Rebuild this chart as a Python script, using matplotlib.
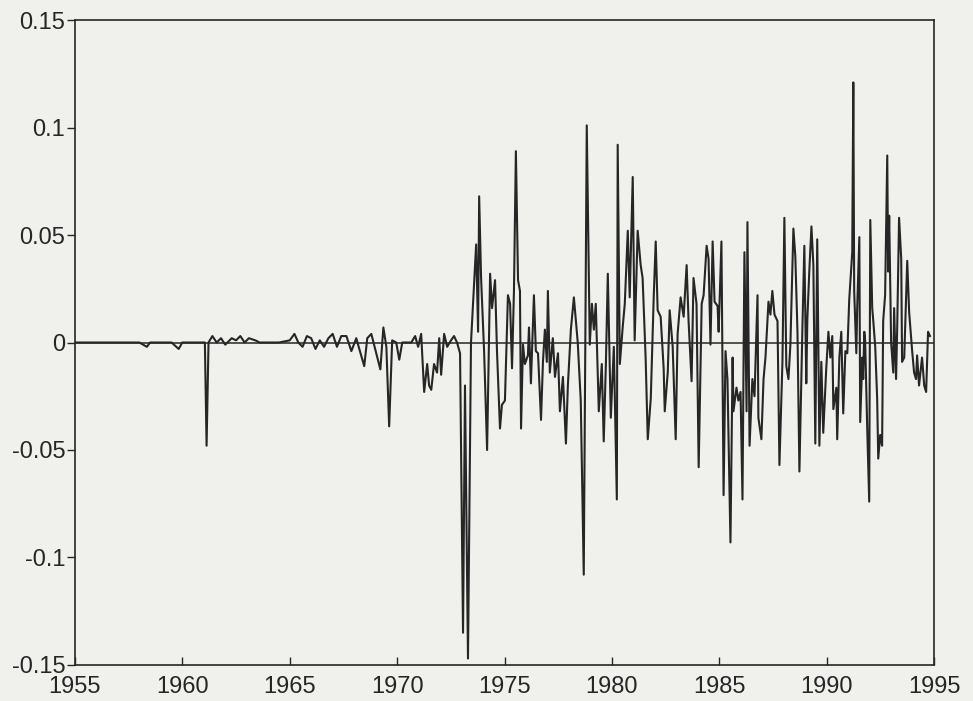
import matplotlib.pyplot as plt
import numpy as np

# calm period (fixed rate)
years_early = [1955.0, 1958.0, 1958.35, 1958.5, 1959.5, 1959.83, 1960.0,
               1961.05, 1961.13, 1961.22, 1961.4, 1961.6, 1961.8, 1962.0,
               1962.3, 1962.5, 1962.7, 1962.9, 1963.1, 1963.4, 1963.6,
               1964.5, 1965.0, 1965.22, 1965.4, 1965.6, 1965.8, 1966.0,
               1966.2, 1966.4, 1966.6, 1966.8, 1967.0, 1967.2, 1967.4,
               1967.64, 1967.87, 1968.1, 1968.24, 1968.47, 1968.61, 1968.8,
               1968.98, 1969.22, 1969.36, 1969.5, 1969.63, 1969.77, 1969.96,
               1970.1, 1970.24, 1970.66, 1970.84, 1970.98, 1971.12, 1971.26,
               1971.4, 1971.49, 1971.59, 1971.72, 1971.86, 1971.96, 1972.05,
               1972.19, 1972.33, 1972.51, 1972.65, 1972.79, 1972.93]
vals_early = [0.0, 0.0, -0.002, 0.0, 0.0, -0.003, 0.0,
              0.0, -0.048, 0.0, 0.003, 0.0, 0.002, -0.001,
              0.002, 0.001, 0.003, 0.0, 0.002, 0.001, 0.0,
              0.0, 0.001, 0.004, 0.0, -0.002, 0.003, 0.002,
              -0.003, 0.001, -0.002, 0.002, 0.004, -0.002, 0.003,
              0.003, -0.004, 0.002, -0.003, -0.011, 0.002, 0.004,
              -0.003, -0.0125, 0.007, -0.002, -0.039, 0.001, 0.0,
              -0.008, 0.0, 0.0, 0.003, -0.002, 0.004, -0.023,
              -0.01, -0.02, -0.022, -0.01, -0.014, 0.002, -0.015,
              0.004, -0.002, 0.001, 0.003, 0.0, -0.005]

# floating period
years_late = [1973.07, 1973.16, 1973.3, 1973.44, 1973.68, 1973.77, 1973.82,
              1973.91, 1974.05, 1974.19, 1974.33, 1974.42, 1974.56, 1974.65,
              1974.79, 1974.88, 1975.02, 1975.16, 1975.26, 1975.35, 1975.44,
              1975.53, 1975.63, 1975.72, 1975.77, 1975.86, 1975.95, 1976.09,
              1976.14, 1976.23, 1976.37, 1976.46, 1976.56, 1976.7, 1976.79,
              1976.88, 1976.97, 1977.02, 1977.11, 1977.25, 1977.35, 1977.49,
              1977.58, 1977.72, 1977.86, 1977.95, 1978.09, 1978.23, 1978.41,
              1978.55, 1978.69, 1978.83, 1978.97, 1979.07, 1979.16, 1979.25,
              1979.39, 1979.53, 1979.62, 1979.72, 1979.81, 1979.95, 1980.09,
              1980.23, 1980.27, 1980.37, 1980.51, 1980.6, 1980.74, 1980.83,
              1980.97, 1981.06, 1981.2, 1981.34, 1981.43, 1981.57, 1981.67,
              1981.81, 1981.95, 1982.04, 1982.13, 1982.27, 1982.41, 1982.46,
              1982.6, 1982.69, 1982.83, 1982.97, 1983.06, 1983.2, 1983.34,
              1983.48, 1983.57, 1983.71, 1983.8, 1983.94, 1984.04, 1984.18,
              1984.27, 1984.41, 1984.5, 1984.59, 1984.69, 1984.78, 1984.92,
              1984.97, 1985.1, 1985.2, 1985.29, 1985.38, 1985.52, 1985.62,
              1985.66, 1985.8, 1985.89, 1985.99, 1986.08, 1986.17, 1986.27,
              1986.31, 1986.41, 1986.54, 1986.64, 1986.78, 1986.82, 1986.96,
              1987.06, 1987.15, 1987.29, 1987.38, 1987.47, 1987.57, 1987.71,
              1987.8, 1987.94, 1988.03, 1988.12, 1988.22, 1988.31, 1988.45,
              1988.54, 1988.64, 1988.73, 1988.87, 1988.96, 1989.05, 1989.1,
              1989.19, 1989.29, 1989.38, 1989.47, 1989.56, 1989.66, 1989.75,
              1989.84, 1989.98, 1990.08, 1990.17, 1990.26, 1990.31, 1990.45,
              1990.49, 1990.59, 1990.68, 1990.77, 1990.87, 1990.96, 1991.05,
              1991.19, 1991.24, 1991.28, 1991.38, 1991.42, 1991.52, 1991.56,
              1991.66, 1991.7, 1991.75, 1991.79, 1991.89, 1991.98, 1992.03,
              1992.12, 1992.17, 1992.26, 1992.35, 1992.4, 1992.49, 1992.58,
              1992.63, 1992.72, 1992.82, 1992.86, 1992.91, 1993.0, 1993.1,
              1993.14, 1993.23, 1993.28, 1993.37, 1993.47, 1993.51, 1993.61,
              1993.75, 1993.84, 1993.98, 1994.07, 1994.16, 1994.21, 1994.3,
              1994.44, 1994.54, 1994.63, 1994.72, 1994.81]
vals_late = [-0.135, -0.02, -0.147, 0.0, 0.0456, 0.005, 0.068,
             0.03, -0.004, -0.05, 0.032, 0.016, 0.029, -0.004,
             -0.04, -0.029, -0.027, 0.022, 0.018, -0.012, 0.024,
             0.089, 0.029, 0.024, -0.04, -0.001, -0.01, -0.006,
             0.007, -0.019, 0.022, -0.004, -0.005, -0.036, -0.009,
             0.006, -0.009, 0.024, -0.014, 0.002, -0.016, -0.005,
             -0.032, -0.016, -0.047, -0.02, 0.006, 0.021, 0.0,
             -0.027, -0.108, 0.101, -0.001, 0.018, 0.006, 0.018,
             -0.032, -0.01, -0.046, -0.01, 0.032, -0.035, -0.002,
             -0.073, 0.092, -0.01, 0.008, 0.018, 0.052, 0.021,
             0.077, 0.001, 0.052, 0.036, 0.03, -0.007, -0.045,
             -0.026, 0.022, 0.047, 0.015, 0.012, -0.012, -0.032,
             -0.014, 0.015, -0.002, -0.045, 0.004, 0.021, 0.012,
             0.036, 0.01, -0.018, 0.03, 0.018, -0.058, 0.018,
             0.022, 0.045, 0.039, -0.001, 0.047, 0.019, 0.017,
             0.005, 0.047, -0.071, -0.004, -0.017, -0.093, -0.007,
             -0.032, -0.021, -0.027, -0.023, -0.073, 0.042, -0.032,
             0.056, -0.048, -0.017, -0.025, 0.022, -0.035, -0.045,
             -0.017, -0.007, 0.019, 0.013, 0.024, 0.013, 0.01,
             -0.057, -0.009, 0.058, -0.011, -0.017, -0.001, 0.053,
             0.04, 0.005, -0.06, 0.007, 0.045, -0.019, 0.011,
             0.033, 0.054, 0.036, -0.047, 0.048, -0.048, -0.009,
             -0.042, -0.012, 0.005, -0.007, 0.003, -0.031, -0.021,
             -0.045, -0.007, 0.005, -0.033, -0.004, -0.005, 0.02,
             0.042, 0.121, 0.024, -0.005, 0.016, 0.049, -0.037,
             -0.007, -0.017, 0.005, 0.001, -0.041, -0.074, 0.057,
             0.016, 0.01, -0.002, -0.026, -0.054, -0.043, -0.048,
             0.01, 0.022, 0.087, 0.033, 0.059, 0.0, -0.014,
             0.016, -0.017, 0.005, 0.058, 0.039, -0.009, -0.007,
             0.038, 0.014, -0.004, -0.014, -0.017, -0.006, -0.02,
             -0.007, -0.02, -0.023, 0.005, 0.003]

years = np.array(years_early + years_late)
vals = np.array(vals_early + vals_late)

xticks = [1955, 1960, 1965, 1970, 1975, 1980, 1985, 1990, 1995]
yticks = [-0.15, -0.1, -0.05, 0, 0.05, 0.1, 0.15]
ylabels = ['-0.15', '-0.1', '-0.05', '0', '0.05', '0.1', '0.15']

paper = '#f0f0ec'
ink = '#262626'

plt.rcParams['font.family'] = ['Liberation Sans', 'DejaVu Sans']

fig = plt.figure(figsize=(9.73, 7.01), dpi=100, facecolor=paper)
ax = fig.add_axes([0.077, 0.0514, 0.883, 0.92])
ax.set_facecolor(paper)

ax.axhline(0, color=ink, lw=1.1)
ax.plot(years, vals, color=ink, lw=1.5)

ax.set_xlim(1955, 1995)
ax.set_ylim(-0.15, 0.15)
ax.set_xticks(xticks)
ax.set_yticks(yticks)
ax.set_yticklabels(ylabels)

ax.tick_params(axis='x', direction='in', length=6, width=1, labelsize=17,
               colors=ink, pad=8)
ax.tick_params(axis='y', direction='out', length=6, width=1, labelsize=17,
               colors=ink, pad=1)
for s in ax.spines.values():
    s.set_color(ink)
    s.set_linewidth(1.2)

plt.savefig('out.png', dpi=100, facecolor=paper)
